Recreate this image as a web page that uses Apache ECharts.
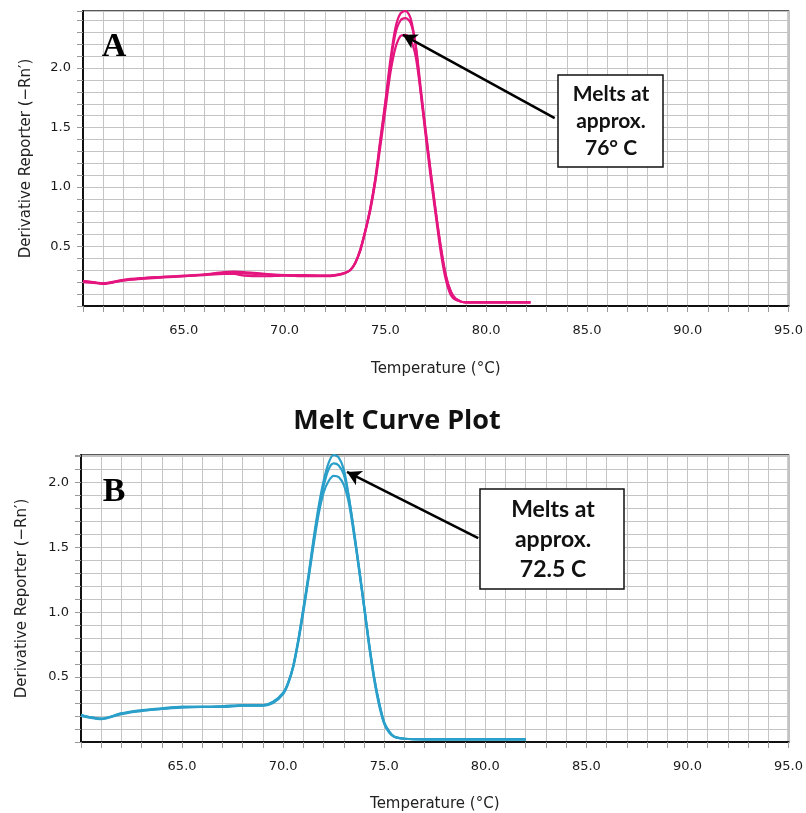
<!DOCTYPE html>
<html>
<head>
    <meta charset="utf-8">
    <title>Melt Curve Plot</title>
    <style>
        body { margin: 0; background: #fff; }
    </style>
</head>
<body>
    <div id="main" style="width: 806px;height:813px;"></div>

    <script src="https://cdn.jsdelivr.net/npm/echarts@6/dist/echarts.min.js"></script>
    <script type="text/javascript">
        // panel A (pink) - temperatures and three replicate curves
        var tempsA = [60, 60.5, 61, 62, 63, 64, 65, 66, 67, 67.5, 68, 69, 70, 71, 72, 72.5, 73, 73.25, 73.5, 73.75,
                      74, 74.25, 74.5, 74.75, 75, 75.25, 75.5, 75.75, 76, 76.25, 76.5, 76.75, 77, 77.25, 77.5, 77.75,
                      78, 78.25, 78.5, 79, 80, 81, 82.2];
        var repA1 = [0.21, 0.20, 0.19, 0.22, 0.235, 0.245, 0.25, 0.265, 0.285, 0.29, 0.285, 0.27, 0.26, 0.255, 0.255, 0.26, 0.28, 0.30, 0.36, 0.47,
                     0.63, 0.82, 1.07, 1.40, 1.72, 2.07, 2.34, 2.46, 2.48, 2.42, 2.19, 1.80, 1.43, 1.08, 0.76, 0.45,
                     0.22, 0.09, 0.05, 0.03, 0.03, 0.03, 0.03];
        var repA2 = [0.21, 0.20, 0.185, 0.215, 0.23, 0.24, 0.25, 0.26, 0.27, 0.27, 0.255, 0.25, 0.255, 0.25, 0.25, 0.255, 0.275, 0.30, 0.36, 0.47,
                     0.63, 0.82, 1.06, 1.38, 1.70, 2.03, 2.29, 2.40, 2.42, 2.38, 2.20, 1.84, 1.48, 1.13, 0.80, 0.50,
                     0.26, 0.12, 0.06, 0.03, 0.03, 0.03, 0.03];
        var repA3 = [0.20, 0.195, 0.19, 0.215, 0.235, 0.245, 0.255, 0.265, 0.275, 0.28, 0.275, 0.265, 0.26, 0.26, 0.255, 0.26, 0.28, 0.30, 0.36, 0.46,
                     0.62, 0.80, 1.04, 1.34, 1.65, 1.96, 2.17, 2.27, 2.28, 2.24, 2.10, 1.80, 1.46, 1.12, 0.79, 0.49,
                     0.25, 0.12, 0.06, 0.03, 0.03, 0.03, 0.03];

        // panel B (blue)
        var tempsB = [60, 60.5, 61, 62, 63, 64, 65, 66, 67, 68, 69, 69.5, 70, 70.25, 70.5, 70.75, 71, 71.25, 71.5, 71.75,
                      72, 72.25, 72.5, 72.75, 73, 73.25, 73.5, 73.75, 74, 74.25, 74.5, 74.75, 75, 75.25, 75.5, 76,
                      77, 78, 79, 80, 81, 82];
        var repB1 = [0.21, 0.19, 0.18, 0.22, 0.245, 0.26, 0.27, 0.27, 0.275, 0.285, 0.285, 0.31, 0.38, 0.46, 0.59, 0.79, 1.03, 1.28, 1.56, 1.81,
                     2.01, 2.15, 2.21, 2.19, 2.10, 1.89, 1.62, 1.33, 1.04, 0.74, 0.48, 0.28, 0.14, 0.07, 0.04, 0.025,
                     0.02, 0.02, 0.02, 0.02, 0.02, 0.02];
        var repB2 = [0.20, 0.185, 0.175, 0.215, 0.24, 0.255, 0.265, 0.27, 0.27, 0.28, 0.28, 0.305, 0.375, 0.455, 0.58, 0.78, 1.02, 1.27, 1.54, 1.78,
                     1.97, 2.10, 2.145, 2.13, 2.06, 1.88, 1.63, 1.35, 1.06, 0.76, 0.50, 0.30, 0.15, 0.08, 0.04, 0.025,
                     0.02, 0.02, 0.02, 0.02, 0.02, 0.02];
        var repB3 = [0.205, 0.19, 0.18, 0.22, 0.24, 0.255, 0.27, 0.27, 0.275, 0.28, 0.28, 0.30, 0.37, 0.45, 0.58, 0.77, 1.00, 1.25, 1.51, 1.75,
                     1.92, 2.01, 2.05, 2.04, 1.98, 1.84, 1.60, 1.34, 1.05, 0.76, 0.50, 0.30, 0.15, 0.08, 0.04, 0.025,
                     0.02, 0.02, 0.02, 0.02, 0.02, 0.02];

        // arrow ends (box edge -> peak), in data units
        var arrowA = [[83.4, 1.58], [75.87, 2.28]];
        var arrowB = [[79.65, 1.57], [73.16, 2.08]];

        var pink = '#e4157f';
        var blue = '#2a9fc9';

        function pairs(t, v) {
            var out = [];
            for (var i = 0; i < t.length; i++) {
                out.push([t[i], v[i]]);
            }
            return out;
        }

        function isHalf(v) {
            return v > 0.01 && v < 2.45 && Math.abs(v * 2 - Math.round(v * 2)) < 1e-6;
        }

        function xAxisOpt(idx, gap) {
            return {
                type: 'value',
                gridIndex: idx,
                min: 60,
                max: 95,
                interval: 1,
                name: 'Temperature (°C)',
                nameLocation: 'middle',
                nameGap: gap,
                nameTextStyle: { fontFamily: 'DejaVu Sans', fontSize: 15, color: '#222' },
                axisLine: { show: true, onZero: false, lineStyle: { color: '#111', width: 2 } },
                axisTick: { show: true, length: 6, lineStyle: { color: '#999' } },
                axisLabel: {
                    margin: 18,
                    fontFamily: 'DejaVu Sans',
                    fontSize: 13,
                    color: '#1a1a1a',
                    formatter: function (v) {
                        return (v % 5 === 0 && v > 60) ? v.toFixed(1) : '';
                    }
                },
                splitLine: { show: true, lineStyle: { color: '#c4c4c4', width: 1 } }
            };
        }

        function yAxisOpt(idx, max, gap) {
            return {
                type: 'value',
                gridIndex: idx,
                min: 0,
                max: max,
                interval: 0.1,
                name: 'Derivative Reporter (\u2212Rn\u2032)',
                nameLocation: 'middle',
                nameGap: gap,
                nameTextStyle: { fontFamily: 'DejaVu Sans', fontSize: 15, color: '#222' },
                axisLine: { show: true, lineStyle: { color: '#111', width: 2 } },
                axisTick: { show: true, length: 6, lineStyle: { color: '#999' } },
                axisLabel: {
                    margin: 12,
                    fontFamily: 'DejaVu Sans',
                    fontSize: 13,
                    color: '#1a1a1a',
                    formatter: function (v) {
                        return isHalf(v) ? v.toFixed(1) : '';
                    }
                },
                splitLine: { show: true, lineStyle: { color: '#c4c4c4', width: 1 } }
            };
        }

        function curve(name, t, v, color, xi) {
            return {
                name: name,
                type: 'line',
                xAxisIndex: xi,
                yAxisIndex: xi,
                data: pairs(t, v),
                smooth: 0.3,
                showSymbol: false,
                silent: true,
                lineStyle: { color: color, width: 2.2 },
                z: 3
            };
        }

        function arrow(ends) {
            return {
                silent: true,
                symbol: ['none', 'arrow'],
                symbolSize: [12, 14],
                label: { show: false },
                lineStyle: { color: '#000', width: 2.5, type: 'solid' },
                data: [[{ coord: ends[0] }, { coord: ends[1] }]]
            };
        }

        var myChart = echarts.init(document.getElementById('main'));

        var seriesList = [
            curve('A1', tempsA, repA1, pink, 0),
            curve('A2', tempsA, repA2, pink, 0),
            curve('A3', tempsA, repA3, pink, 0),
            curve('B1', tempsB, repB1, blue, 1),
            curve('B2', tempsB, repB2, blue, 1),
            curve('B3', tempsB, repB3, blue, 1)
        ];
        seriesList[0].markLine = arrow(arrowA);
        seriesList[3].markLine = arrow(arrowB);

        var option = {
            animation: false,
            backgroundColor: '#fff',
            grid: [
                { left: 83, top: 11, width: 710, height: 295, show: true, borderColor: '#222', borderWidth: 1.5, backgroundColor: '#fff' },
                { left: 81, top: 455, width: 711, height: 287, show: true, borderColor: '#222', borderWidth: 1.5, backgroundColor: '#fff' }
            ],
            xAxis: [xAxisOpt(0, 56), xAxisOpt(1, 55)],
            yAxis: [yAxisOpt(0, 2.48, 49), yAxisOpt(1, 2.21, 51)],
            series: seriesList,
            graphic: [
                {
                    type: 'text', z: 100,
                    style: { text: 'Melt Curve Plot', x: 397, y: 421, textAlign: 'center', textVerticalAlign: 'middle',
                             font: 'bold 27px "Open Sans"', fill: '#111' }
                },
                {
                    type: 'text', z: 100,
                    style: { text: 'A', x: 114, y: 47, textAlign: 'center', textVerticalAlign: 'middle',
                             font: 'bold 34px "Liberation Serif"', fill: '#000' }
                },
                {
                    type: 'text', z: 100,
                    style: { text: 'B', x: 114, y: 492, textAlign: 'center', textVerticalAlign: 'middle',
                             font: 'bold 34px "Liberation Serif"', fill: '#000' }
                },
                {
                    type: 'rect', z: 100,
                    shape: { x: 558, y: 75, width: 105, height: 92 },
                    style: { fill: '#fff', stroke: '#111', lineWidth: 1.5 }
                },
                {
                    type: 'text', z: 101,
                    style: { text: 'Melts at\napprox.\n76° C', x: 611, y: 121, textAlign: 'center', textVerticalAlign: 'middle',
                             font: 'bold 21px Lato', lineHeight: 27, fill: '#111' }
                },
                {
                    type: 'rect', z: 100,
                    shape: { x: 480, y: 489, width: 144, height: 100 },
                    style: { fill: '#fff', stroke: '#111', lineWidth: 1.5 }
                },
                {
                    type: 'text', z: 101,
                    style: { text: 'Melts at\napprox.\n72.5 C', x: 553, y: 540, textAlign: 'center', textVerticalAlign: 'middle',
                             font: 'bold 23px Lato', lineHeight: 30, fill: '#111' }
                }
            ]
        };
        myChart.setOption(option);
    </script>
</body>
</html>
